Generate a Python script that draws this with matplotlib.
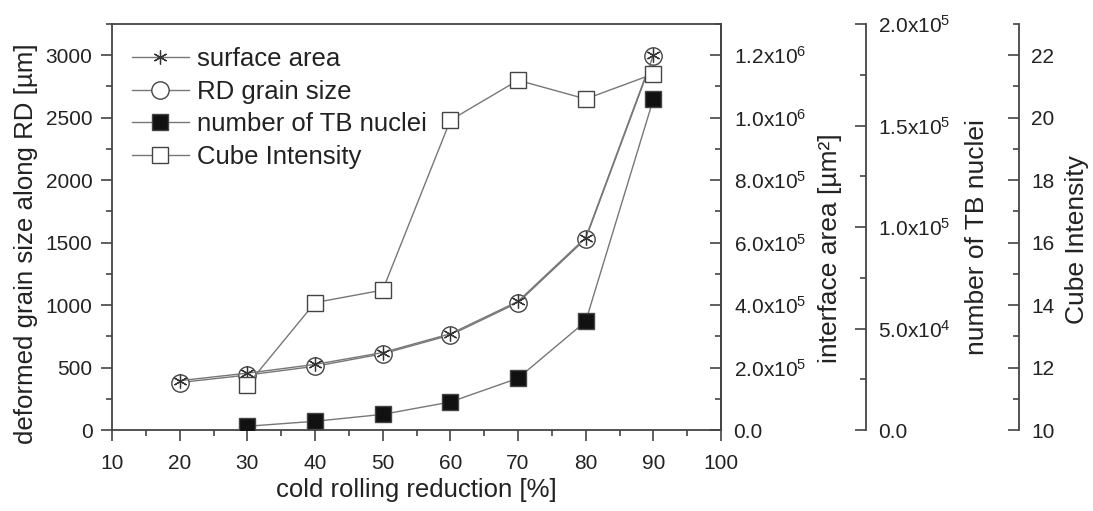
import matplotlib
matplotlib.use("Agg")
import matplotlib.pyplot as plt
from matplotlib.ticker import MultipleLocator, FuncFormatter

plt.rcParams['font.family'] = ['Liberation Sans', 'DejaVu Sans']
plt.rcParams['mathtext.default'] = 'regular'

reduction = [20, 30, 40, 50, 60, 70, 80, 90]
rd_grain_size = [380, 440, 510, 610, 760, 1020, 1530, 2990]
surface_area = [1.58e5, 1.82e5, 2.1e5, 2.48e5, 3.08e5, 4.12e5, 6.16e5, 1.2e6]
tb_reduction = [30, 40, 50, 60, 70, 80, 90]
tb_nuclei = [1850, 4300, 7700, 13800, 25500, 53500, 163000]
cube_reduction = [30, 40, 50, 60, 70, 80, 90]
cube_intensity = [11.44, 14.08, 14.48, 19.92, 21.2, 20.6, 21.4]

grey = '#444444'
lgrey = '#777777'
txt = '#222222'

fig = plt.figure(figsize=(10.93, 5.11), dpi=100)
ax = fig.add_axes([0.1025, 0.1585, 0.5572, 0.7945])
ax2 = ax.twinx()
ax3 = ax.twinx()
ax4 = ax.twinx()


def sci(v, pos):
    if v == 0:
        return '0.0'
    e = 0
    m = v
    while abs(m) >= 10:
        m /= 10.0
        e += 1
    return f'{m:.1f}x10$^{{{e}}}$'


fs = 15
lfs = 19

# main axis
l_rd, = ax.plot(reduction, rd_grain_size, color=lgrey, lw=1.0, marker='o', ms=12.5,
                mfc='white', mec=grey, mew=1.0, zorder=3)
ax.set_xlim(10, 100)
ax.set_ylim(0, 3250)
ax.xaxis.set_major_locator(MultipleLocator(10))
ax.xaxis.set_minor_locator(MultipleLocator(5))
ax.yaxis.set_major_locator(MultipleLocator(500))
ax.yaxis.set_minor_locator(MultipleLocator(250))
ax.tick_params(axis='both', which='both', direction='out', colors=grey, labelcolor=txt,
               labelsize=fs, width=1.2)
ax.tick_params(which='major', length=8)
ax.tick_params(which='minor', length=4)
ax.tick_params(axis='y', right=False, pad=6)
ax.tick_params(axis='x', top=False, pad=9)
ax.set_xlabel('cold rolling reduction [%]', fontsize=18.5, color=txt)
ax.set_ylabel('deformed grain size along RD [µm]', fontsize=18.6, color=txt)
ax.xaxis.set_label_coords(0.5, -0.118)
ax.yaxis.set_label_coords(-0.1215, 0.46)
for s in ax.spines.values():
    s.set_color(grey)
    s.set_linewidth(1.3)

# interface area axis
l_sa, = ax2.plot(reduction, surface_area, color=lgrey, lw=1.0, marker=(6, 2, 0), ms=10,
                 mec='#333333', mew=0.9, zorder=4)
ax2.set_ylim(0, 1.3e6)
ax2.yaxis.set_major_locator(MultipleLocator(2e5))
ax2.yaxis.set_minor_locator(MultipleLocator(1e5))
ax2.yaxis.set_major_formatter(FuncFormatter(sci))
ax2.set_ylabel('interface area [µm²]', fontsize=lfs, color=txt)
ax2.yaxis.set_label_coords(1.159, 0.448)

# TB nuclei axis
l_tb, = ax3.plot(tb_reduction, tb_nuclei, color=lgrey, lw=1.0, marker='s', ms=12,
                 mfc='#111111', mec=grey, mew=1.0, zorder=3)
ax3.set_ylim(0, 2e5)
ax3.spines['right'].set_position(('axes', 1.238))
ax3.yaxis.set_major_locator(MultipleLocator(5e4))
ax3.yaxis.set_minor_locator(MultipleLocator(2.5e4))
ax3.yaxis.set_major_formatter(FuncFormatter(sci))
ax3.set_ylabel('number of TB nuclei', fontsize=lfs, color=txt)
ax3.yaxis.set_label_coords(1.401, 0.475)

# Cube intensity axis
l_cu, = ax4.plot(cube_reduction, cube_intensity, color=lgrey, lw=1.0, marker='s', ms=12,
                 mfc='white', mec=grey, mew=1.0, zorder=3)
ax4.set_ylim(10, 23)
ax4.spines['right'].set_position(('axes', 1.489))
ax4.yaxis.set_major_locator(MultipleLocator(2))
ax4.yaxis.set_minor_locator(MultipleLocator(1))
ax4.set_ylabel('Cube Intensity', fontsize=lfs, color=txt)
ax4.yaxis.set_label_coords(1.565, 0.468)

for a in (ax2, ax3, ax4):
    a.tick_params(axis='y', which='both', direction='in', colors=grey, labelcolor=txt,
                  labelsize=fs, width=1.2, pad=9)
    a.tick_params(axis='y', which='major', length=8)
    a.tick_params(axis='y', which='minor', length=4)
    a.spines['right'].set_color(grey)
    a.spines['right'].set_linewidth(1.3)
    for s in ('left', 'top', 'bottom'):
        a.spines[s].set_visible(False)
    a.patch.set_visible(False)

handles = [l_sa, l_rd, l_tb, l_cu]
labels = ['surface area', 'RD grain size', 'number of TB nuclei', 'Cube Intensity']
leg = ax4.legend(handles, labels, loc='upper left', bbox_to_anchor=(0.033, 0.943),
                 bbox_transform=ax.transAxes, frameon=False, fontsize=18.5,
                 handlelength=2.2, handletextpad=0.34, labelspacing=0.33, borderaxespad=0.0,
                 borderpad=0.0)
for t in leg.get_texts():
    t.set_color(txt)

fig.savefig('out.png', dpi=100)
